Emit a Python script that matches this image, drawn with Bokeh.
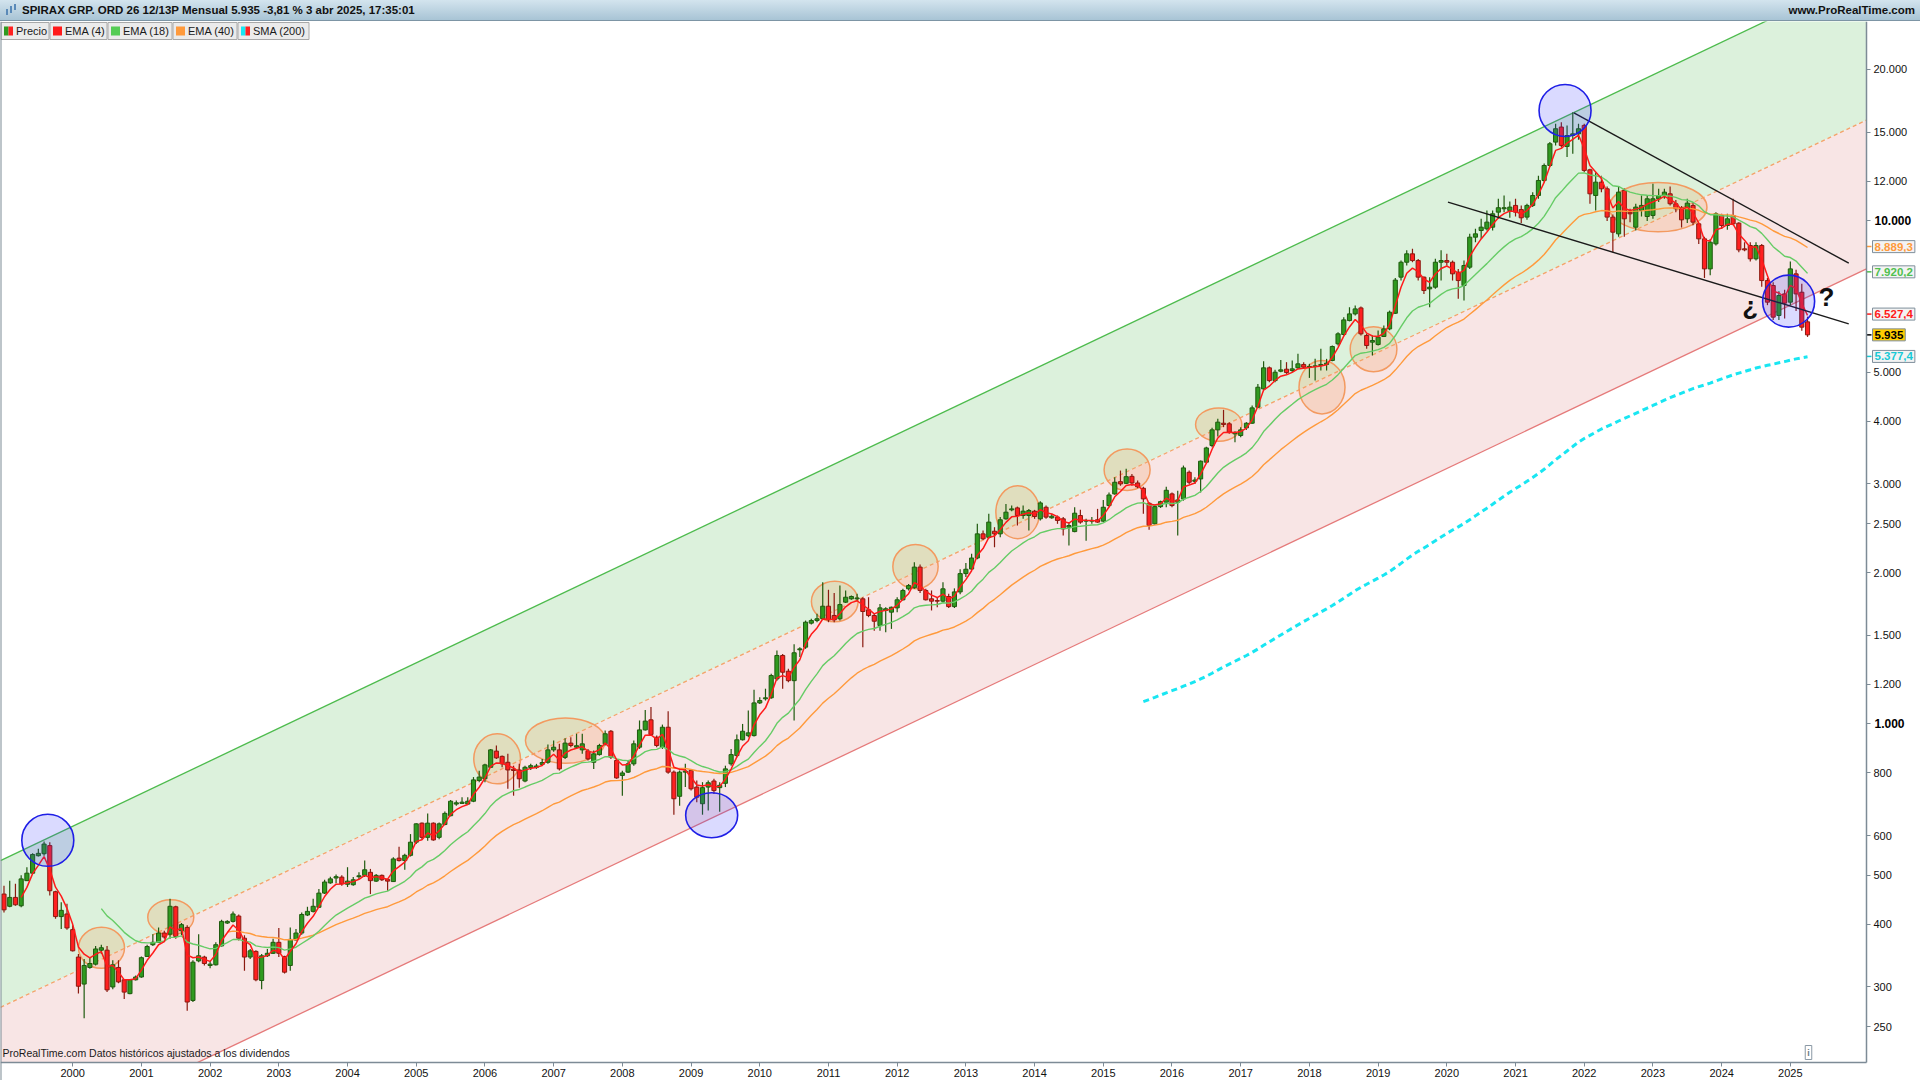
import numpy as np
from bokeh.plotting import figure
from bokeh.models import FixedTicker, ColumnDataSource, Label, Div, Range1d, Span
from bokeh.layouts import column
from bokeh.embed import file_html
from bokeh.resources import INLINE
from bokeh.core.properties import value

# ---------------- data (monthly candles, Jan 1999 .. Apr 2025) ----------------
opens = [459,434,452,435,488,505,547,552,573,464,
         414,419,390,344,304,328,333,355,355,300,
         328,310,291,310,314,345,364,368,384,382,
         433,388,394,282,338,344,331,332,362,402,
         405,415,375,344,353,309,346,350,368,345,
         331,372,384,417,424,432,461,483,494,496,
         480,479,497,500,507,487,500,491,486,541,
         535,548,582,635,595,635,595,631,657,693,
         695,693,702,772,
         778,820,883,862,839,813,
         810,770,819,820,831,839,888,888,858,916,
         899,888,883,839,869,913,967,846,790,802,
         833,899,973,1019,941,899,985,802,718,802,
         808,749,694,749,770,747,762,833,865,930,
         948,948,1101,1122,1127,1229,1368,1273,1219,1404,
         1421,1586,1605,1618,1714,1643,1618,1746,1773,1773,
         1773,1686,1643,1569,1681,1668,1701,1765,1856,1865,
         2050,1842,1773,1759,1754,1792,
         1711,1830,
         1990,2032,
         2137,2387,2350,2416,2387,2557,2664,2688,2596,2596,
         2648,2557,2696,2569,2577,2557,2461,2412,2596,2530,
         2530,2546,2530,2717,2866,3031,3008,3106,3013,2941,
         2746,2499,2704,2759,2866,2759,2801,3164,3036,3069,
         3314,3576,3842,3961,3950,3773,3744,3878,3961,4262,
         4634,5104,4814,5025,5072,5041,5104,5183,5119,5135,
         5158,5183,5278,5697,5945,6337,6533,6714,5918,5740,
         5678,5891,6099,6552,
         7729,8276,8600,8340,7729,7326,
         7383,8276,8340,8276,7908,7439,8090,9282,9569,9643,
         9717,10409,10571,10490,10733,10532,10174,10733,11233,12032,
         12886,14342,15365,14060,14782,14894,15481,12634,11233,11940,
         11581,10174,9424,11494,10409,9717,10490,10203,10252,11064,
         11233,11320,10815,10622,10096,10733,9866,9211,8028,9003,
         10252,9791,10252,9898,8799,8935,8406,8935,7610,7439,
         6485,7160,6893,7848,7215,6300]

highs = [477,488,481,500,519,553,565,584,582,466,
         442,439,398,349,341,344,362,364,362,339,
         339,311,311,316,345,364,382,394,388,449,
         435,402,398,339,382,346,338,368,408,407,
         424,418,380,357,355,349,357,374,393,346,
         394,391,422,433,449,470,490,497,502,500,
         519,496,507,535,515,503,502,492,543,570,
         552,604,635,637,664,637,637,670,706,704,
         715,715,784,807,
         833,892,906,865,872,826,
         833,826,833,833,852,910,927,913,937,941,
         956,956,892,885,913,970,973,852,807,846,
         927,1016,1066,1080,948,997,1060,808,808,833,
         814,772,766,772,778,766,826,892,953,1000,
         1063,1169,1130,1175,1258,1400,1378,1287,1440,1421,
         1605,1618,1655,1913,1848,1820,1884,1842,1800,1815,
         1786,1786,1655,1732,1706,1711,1786,1856,1898,2096,
         2074,1856,1842,1786,1913,1815,
         1860,2030,
         2090,2178,
         2499,2423,2616,2461,2577,2738,2717,2704,2717,2676,
         2664,2770,2717,2616,2596,2577,2519,2696,2664,2557,
         2577,2676,2788,2885,3093,3189,3214,3141,3046,2960,
         2759,2717,2779,2960,2885,2909,3263,3189,3093,3339,
         3558,3878,4041,4211,3980,3818,3890,3980,4295,4742,
         5262,5135,5057,5293,5238,5278,5441,5238,5198,5318,
         5567,5318,5653,6008,6434,6735,6788,6757,5963,5918,
         6053,6193,6633,7698,
         8340,8740,8800,8400,7750,7729,
         8406,8740,8600,8340,8028,8340,9424,9643,10096,10490,
         10490,11064,11233,10933,11064,10733,10815,11406,12300,13000,
         14342,15600,15700,15481,16451,15600,15600,12700,12500,12300,
         11700,10300,11700,11600,10571,10815,11233,11240,11850,11581,
         11581,11700,11000,10700,11064,10900,9900,9300,9200,10409,
         10330,10330,11064,9943,9072,9072,9072,9000,7700,7550,
         7250,7300,8300,8000,7500,6450]

lows = [422,432,435,432,487,503,545,547,456,410,
        391,390,353,291,260,326,331,349,293,297,
        305,284,290,309,313,344,362,368,374,374,
        374,380,269,280,336,331,327,331,361,400,
        403,371,323,341,308,297,344,349,344,319,
        323,371,381,415,422,431,459,481,482,477,
        474,477,492,496,459,485,487,466,485,533,
        513,545,577,588,586,586,590,629,655,688,
        693,691,699,766,
        766,818,852,820,743,720,
        747,766,810,814,826,833,880,808,852,899,
        892,872,846,814,865,906,852,778,720,799,
        826,892,970,948,899,892,796,660,688,749,
        737,699,660,673,726,669,749,826,859,927,
        941,944,1096,1113,1122,1219,1175,1210,1016,1358,
        1410,1576,1593,1610,1593,1593,1605,1740,1765,1754,
        1421,1630,1532,1532,1521,1545,1668,1759,1842,1856,
        1820,1759,1681,1706,1746,1701,
        1700,1810,
        1960,2022,
        2126,2322,2333,2245,2350,2546,2648,2480,2557,2423,
        2557,2538,2557,2557,2499,2369,2262,2405,2499,2314,
        2499,2511,2519,2704,2856,2975,3000,2975,2941,2616,
        2431,2492,2688,2696,2696,2369,2779,3000,3000,2885,
        3299,3549,3726,3890,3773,3631,3716,3842,3950,4249,
        4612,4778,4778,5002,4964,5002,5080,5080,4874,4814,
        5041,5041,5262,5653,5918,6313,6483,5918,5567,5398,
        5653,5891,6062,6533,
        7610,8152,8276,7610,7160,6736,
        7326,7610,8152,7610,7000,6950,8028,9072,9211,9569,
        9569,10096,10409,10142,10203,9900,10048,10651,11064,11940,
        12800,14125,14000,13400,13597,14500,12500,10815,10490,11400,
        10000,8666,9300,9300,9943,9566,10203,10000,10100,10900,
        11064,10733,10409,9700,9900,9800,9000,7700,7800,8935,
        9640,9600,9800,8666,8700,8300,8340,7400,6800,6350,
        6350,6400,6800,6620,6050,5880]

closes = [427,452,437,492,505,550,553,577,466,414,
          426,393,354,301,331,334,357,359,296,332,
          307,293,310,314,343,361,368,384,377,434,
          378,399,280,336,346,334,333,364,405,405,
          419,375,344,354,310,346,350,368,350,321,
          373,384,418,424,434,461,485,492,497,481,
          487,490,499,513,488,500,490,487,539,535,
          548,582,633,595,635,588,633,664,702,697,
          699,702,774,784,
          829,888,856,833,810,808,
          778,820,826,825,838,888,899,814,916,906,
          905,913,852,872,906,956,859,781,799,833,
          913,973,1013,953,906,985,802,710,802,806,
          743,715,747,764,737,755,814,869,930,967,
          960,1101,1113,1127,1248,1368,1267,1219,1385,1410,
          1593,1605,1618,1714,1610,1610,1727,1786,1792,1780,
          1673,1643,1600,1701,1694,1706,1765,1842,1884,2050,
          1842,1765,1754,1754,1856,1711,
          1830,1990,
          2030,2137,
          2387,2333,2519,2387,2546,2636,2676,2596,2648,2656,
          2584,2750,2577,2588,2538,2442,2480,2624,2519,2538,
          2538,2519,2696,2852,3023,3000,3101,3013,2960,2801,
          2480,2704,2766,2914,2717,2788,3228,3023,3054,3329,
          3537,3842,3980,3938,3802,3790,3842,3961,4249,4670,
          5104,4814,5002,5057,4995,5080,5198,5119,5135,5150,
          5183,5215,5627,5963,6356,6533,6684,5963,5653,5784,
          5872,6099,6583,7626,
          8276,8600,8340,7729,7270,7383,
          8276,8340,8276,7848,7610,8152,9282,9424,9717,9943,
          10330,10622,10622,10651,10409,10142,10733,11233,12032,12886,
          14234,15247,14125,14782,14894,15247,12597,11320,11940,11581,
          10174,9496,11406,10096,10330,10651,10733,11064,11064,11233,
          11406,10815,10571,10048,10847,9943,9211,8028,9072,10330,
          9791,10096,9866,8758,8758,8406,8935,7610,6893,6436,
          7106,6862,8028,7160,6148,5935]

year_labels = [str(y) for y in range(2000, 2026)]
y_tick_values = [250, 300, 400, 500, 600, 800, 1000, 1200, 1500, 2000, 2500,
                 3000, 4000, 5000, 10000, 12000, 15000, 20000]
y_tick_labels = ["250", "300", "400", "500", "600", "800", "1.000", "1.200", "1.500",
                 "2.000", "2.500", "3.000", "4.000", "5.000", "10.000", "12.000",
                 "15.000", "20.000"]

# last values shown in the right-hand tags
tag_names = ["EMA (40)", "EMA (18)", "EMA (4)", "Precio", "SMA (200)"]
tag_values = [8889.3, 7920.2, 6527.4, 5935, 5377.4]
tag_texts = ["8.889,3", "7.920,2", "6.527,4", "5.935", "5.377,4"]

# regression channel (mid line at two months, half-width in decades)
channel_months = [0, 315]
channel_mid = [275.4, 13955]
channel_up = 0.2917
channel_down = 0.296

# annotations drawn by the author (month index, price)
trend_months = [[274.2, 322.2], [252.2, 322.2]]
trend_prices = [[16400, 8240], [10895, 6243]]
blue_months = [7.65, 123.6, 272.65, 311.7]
blue_prices = [587, 658.5, 16580, 6925]
orange_months = [17.03, 29.13, 86.13, 98.06, 145.1, 159.2, 177.05, 196.16, 212.16, 230.2, 239.2, 288.9]
orange_prices = [358.8, 412.8, 852.3, 926.8, 1751, 2055, 2636, 3201, 3937, 4670, 5558, 10646]

# ---------------- indicators ----------------
c = np.array(closes, dtype=float)
n = len(c)
idx = np.arange(n)


def ema(vals, period):
    out = np.full(len(vals), np.nan)
    out[period - 1] = vals[:period].mean()
    a = 2.0 / (period + 1)
    for k in range(period, len(vals)):
        out[k] = a * vals[k] + (1 - a) * out[k - 1]
    return out


def sma(vals, period):
    out = np.full(len(vals), np.nan)
    for k in range(period - 1, len(vals)):
        out[k] = vals[k - period + 1:k + 1].mean()
    return out


ema4 = ema(c, 4)
ema18 = ema(c, 18)
ema40 = ema(c, 40)
sma200 = sma(c, 200)

# ---------------- geometry ----------------
FONT = "Liberation Sans"
HEADER_H = 21
FIG_W, FIG_H = 1920, 1080 - HEADER_H
X0, X_AXIS = -0.61, 325.3          # left edge / position of price axis
Y_AXIS, Y1 = 212.3, 24910          # position of time axis / top
REF_AX_X, REF_TOP, REF_AX_Y = 1866.0, 21.0, 1062.0
DX = (X_AXIS - X0) / REF_AX_X
LT = np.log10(Y1)
DL = (LT - np.log10(Y_AXIS)) / (REF_AX_Y - REF_TOP)
X_END = X0 + FIG_W * DX
Y0 = 10 ** (LT - FIG_H * DL)


def rx(px):
    return X0 + px * DX


def ry(py):
    return 10 ** (LT - (py - REF_TOP) * DL)


p = figure(width=FIG_W, height=FIG_H, y_axis_type="log", y_axis_location="right",
           x_range=Range1d(X0, X_END), y_range=Range1d(Y0, Y1),
           output_backend="svg", toolbar_location=None,
           min_border_left=0, min_border_right=0, min_border_top=0, min_border_bottom=0)
p.margin = (0, 0, 0, 0)
p.outline_line_color = None
p.grid.visible = False
p.background_fill_color = "white"
p.border_fill_color = "white"

# channel
cm = np.log10(channel_mid)
slope = (cm[1] - cm[0]) / (channel_months[1] - channel_months[0])
xs = np.array([X0, X_AXIS])
mid = 10 ** (cm[0] + slope * (xs - channel_months[0]))
upper = mid * 10 ** channel_up
lower = mid / 10 ** channel_down
p.varea(x=xs, y1=mid, y2=upper, fill_color="#dcf1dc")
p.varea(x=xs, y1=lower, y2=mid, fill_color="#f8e5e5")
p.line(xs, upper, line_color="#4dbb4d", line_width=1.3)
p.line(xs, mid, line_color="#f4a36a", line_width=1.3, line_dash="4 3")
p.line(xs, lower, line_color="#e57a7a", line_width=1.3)

# orange ellipses
p.ellipse(x=orange_months, y=orange_prices,
          width=[46, 46, 46.7, 80, 46.7, 45.3, 43.7, 46, 46.3, 46, 46.7, 97.7],
          height=[41, 35, 50, 45.3, 40.7, 44.3, 53, 41.3, 33.3, 53.3, 45, 49.3],
          width_units="screen", height_units="screen",
          fill_color="#f39a55", fill_alpha=0.22, line_color="#f39a60", line_width=1.5)

# candles
o = np.array(opens, dtype=float)
h = np.array(highs, dtype=float)
l = np.array(lows, dtype=float)
up = c >= o
for mask, fill, edge in [(up, "#2f9a1f", "#1f5a0f"), (~up, "#ff2020", "#8a1a10")]:
    src = ColumnDataSource(dict(x=idx[mask], high=h[mask], low=l[mask],
                                top=np.maximum(o, c)[mask], bottom=np.minimum(o, c)[mask]))
    p.segment(x0="x", y0="high", x1="x", y1="low", source=src, line_color=edge, line_width=1.2)
    p.vbar(x="x", width=0.72, top="top", bottom="bottom", source=src,
           fill_color=fill, line_color=edge, line_width=1)

# indicators
p.line(idx, sma200, line_color="#19e6f2", line_width=3, line_dash="6 4")
p.line(idx, ema40, line_color="#ff9a3c", line_width=1.4)
p.line(idx, ema18, line_color="#66cc66", line_width=1.4)
p.line(idx, ema4, line_color="#ff1a1a", line_width=1.5)

# trend lines
for tx, ty in zip(trend_months, trend_prices):
    p.line(tx, ty, line_color="#1a1a1a", line_width=1.4)

# blue circles
p.ellipse(x=blue_months, y=blue_prices, width=[52, 52, 52, 52], height=[52, 45, 52, 52],
          width_units="screen", height_units="screen",
          fill_color="#3333ff", fill_alpha=0.18, line_color="#1f1fe6", line_width=1.6)

# question marks
p.text(x=[305.0, 318.3], y=[6788, 7051], text=["¿", "?"], text_font=value(FONT),
       text_font_size="26px", text_font_style="bold", text_align="center",
       text_baseline="middle", text_color="#111111")

# white margins outside the chart area (axis label zones)
p.quad(left=[X_AXIS, X0], right=[X_END, X_END], bottom=[Y0, Y0], top=[Y1, Y_AXIS],
       fill_color="white", line_color=None)

# legend (top-left)
legend_items = [("Precio", ["#2f9a1f", "#ff2020"], 0.5, 48.5),
                ("EMA (4)", ["#ff1a1a"], 49.5, 106.5),
                ("EMA (18)", ["#55cc55"], 107.5, 171.5),
                ("EMA (40)", ["#ff9a3c"], 172.5, 236.5),
                ("SMA (200)", ["#19e6f2", "#ff2020"], 237.5, 308.5)]
for name, cols, lft, rgt in legend_items:
    p.quad(left=[rx(lft)], right=[rx(rgt)], top=[ry(22)], bottom=[ry(39)],
           fill_color="#ebebeb", line_color="#a8a8a8", line_width=1)
    w = 9.0 / len(cols)
    for k, col in enumerate(cols):
        p.quad(left=[rx(lft + 3 + k * w)], right=[rx(lft + 3 + (k + 1) * w)],
               top=[ry(26)], bottom=[ry(35)], fill_color=col, line_color=None)
    p.text(x=[rx(lft + 15)], y=[ry(30.5)], text=[name], text_font=value(FONT),
           text_font_size="11px", text_baseline="middle", text_color="#1a1a1a")

# small coloured ticks for the tags
tag_colors = ["#ff9a3c", "#4fc04f", "#ff1a1a", "#000000", "#17c9d6"]
tag_fills = ["#f3f3f3", "#f3f3f3", "#f3f3f3", "#ffcc00", "#f3f3f3"]
p.segment(x0=[X_AXIS] * 5, x1=[rx(1871)] * 5, y0=tag_values, y1=tag_values,
          line_color=tag_colors, line_width=1.5)

# footer text and info icon
p.add_layout(Label(x=rx(2), y=ry(1052), text="ProRealTime.com Datos históricos ajustados a los dividendos",
                   text_font=FONT, text_font_size="10.5px", text_color="#1a1a1a",
                   text_baseline="middle"))
p.add_layout(Label(x=rx(1808), y=ry(1052), text="i", text_font=FONT, text_font_size="9px",
                   text_font_style="bold", text_color="#6a7a88", text_align="center",
                   text_baseline="middle", border_line_color="#8a98a4",
                   background_fill_color="white", padding=2))

# left frame line
p.add_layout(Span(location=X0, dimension="height", line_color="#7d8b96", line_width=2))

# axes (drawn at fixed positions inside the canvas)
xax = p.xaxis[0]
yax = p.yaxis[0]
xax.fixed_location = Y_AXIS
xax.bounds = (X0, X_AXIS)
yax.fixed_location = X_AXIS
yax.bounds = (Y_AXIS, Y1)
xax.ticker = FixedTicker(ticks=[12 * (k + 1) for k in range(len(year_labels))])
xax.major_label_overrides = {12 * (k + 1): lab for k, lab in enumerate(year_labels)}
yax.ticker = FixedTicker(ticks=y_tick_values)
yax.major_label_overrides = {v: ("" if v in (1000, 10000) else lab)
                             for v, lab in zip(y_tick_values, y_tick_labels)}
for ax in (xax, yax):
    ax.axis_line_color = "#7d8b96"
    ax.axis_line_width = 1.5
    ax.major_tick_line_color = "#7d8b96"
    ax.major_tick_out = 4
    ax.major_tick_in = 0
    ax.minor_tick_line_color = None
    ax.major_label_text_font = FONT
    ax.major_label_text_font_size = "11px"
    ax.major_label_text_color = "#111111"
xax.major_label_standoff = 2
yax.major_label_standoff = 3

# bold round-number labels
for v, lab in [(1000, "1.000"), (10000, "10.000")]:
    p.add_layout(Label(x=rx(1874), y=v, text=lab, text_font=FONT, text_font_size="12px",
                       text_font_style="bold", text_color="#000000", text_baseline="middle"))

# value tags at right
for v, t, tc, bf in zip(tag_values, tag_texts, tag_colors, tag_fills):
    p.add_layout(Label(x=rx(1872), y=v, text=t, text_font=FONT, text_font_size="11.5px",
                       text_font_style="bold", text_color=tc, text_baseline="middle",
                       background_fill_color=bf, border_line_color="#7f8f9c", padding=2))

header = Div(text=(
    '<div style="width:1920px;height:21px;box-sizing:border-box;'
    'background:linear-gradient(to bottom,#d3e4ee,#a8c4d5);border-bottom:1px solid #7d95a5;'
    'display:flex;align-items:center;justify-content:space-between;'
    "font-family:'Liberation Sans',Arial,sans-serif;font-weight:bold;font-size:11.5px;"
    'color:#111;padding:0 5px 0 4px;">'
    '<span style="display:flex;align-items:center;">'
    '<svg width="14" height="14" style="margin-right:4px"><rect x="2" y="6" width="2" height="6" fill="#5a8ab8"/>'
    '<rect x="6" y="3" width="2" height="7" fill="#5a8ab8"/><rect x="10" y="1" width="2" height="6" fill="#5a8ab8"/></svg>'
    'SPIRAX GRP. ORD 26 12/13P Mensual 5.935 -3,81 % 3 abr 2025, 17:35:01</span>'
    '<span>www.ProRealTime.com</span></div>'),
    width=FIG_W, height=HEADER_H, margin=(0, 0, 0, 0))

layout = column(header, p, spacing=0, margin=(0, 0, 0, 0))
open("out.html", "w").write(file_html(layout, INLINE))
